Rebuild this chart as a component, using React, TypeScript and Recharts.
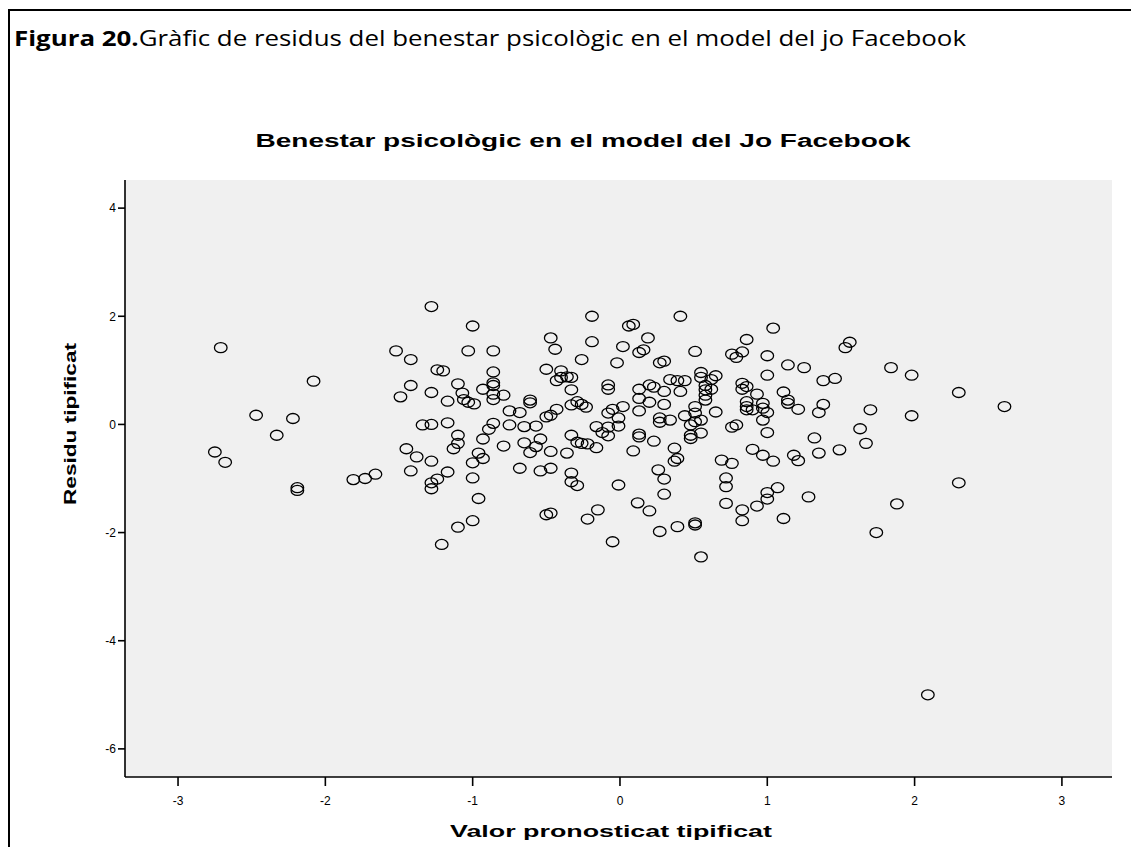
import React from "react";
import { ScatterChart, Scatter, XAxis, YAxis, CartesianGrid } from "recharts";

// Standardized predicted value (x) and standardized residual (y)
const predicted = [
  -2.71, -2.08, -2.47, -2.22, -2.33, -2.75, -2.68, -2.19, -2.19, -1.81, -1.73, -1.66,
  -1.28, -1.0, -1.52, -1.42, -1.03, -0.86, -1.24, -1.2, -0.86, -1.42, -1.49, -1.28,
  -1.1, -1.07, -1.17, -1.06, -1.03, -0.99, -0.93, -0.86, -0.86, -0.86, -0.86, -0.79,
  -0.75, -0.68, -0.61, -0.61, -1.34, -1.28, -1.17, -0.86, -0.75, -0.65, -0.89, -1.1,
  -1.1, -1.13, -0.93, -1.45, -1.38, -1.28, -1.42, -1.17, -1.24, -1.28, -1.28, -0.96,
  -1.0, -0.93, -1.0, -0.96, -1.0, -1.1, -1.21, -0.79, -0.65, -0.61, -0.68,
  -0.19, 0.41, 0.06, 0.09, -0.47, -0.44, -0.19, 0.19, 0.02, 0.13, 0.16, -0.26,
  -0.02, 0.27, 0.3, -0.5, -0.4, -0.43, -0.4, -0.36, -0.33, -0.33, -0.08, -0.08,
  0.34, 0.39, 0.13, 0.2, 0.23, 0.3, 0.13, 0.2, 0.3, -0.33, -0.29, -0.26, -0.23,
  -0.43, -0.47, -0.5, -0.05, -0.08, 0.02, -0.01, 0.13, 0.27, 0.34, 0.27, -0.57,
  -0.16, -0.08, -0.01, -0.12, -0.08, 0.13, 0.13, 0.23, 0.09, 0.37, 0.37, 0.39,
  0.26, 0.3, 0.3, -0.54, -0.57, -0.47, -0.33, -0.29, -0.26, -0.22, -0.16, -0.36,
  -0.54, -0.47, -0.33, -0.33, -0.29, -0.01, -0.5, -0.47, -0.15, -0.22, 0.12, 0.2,
  -0.05, 0.27, 0.39,
  1.04, 0.86, 0.51, 0.76, 0.83, 0.79, 1.0, 1.14, 1.25, 1.0, 0.55, 0.55, 0.65, 0.62,
  0.44, 0.41, 0.58, 0.58, 0.62, 0.58, 0.58, 0.83, 0.83, 0.86, 0.93, 0.86, 0.86,
  0.86, 0.9, 0.97, 0.97, 1.0, 0.97, 1.11, 1.14, 1.14, 1.21, 1.38, 1.38, 1.35, 0.65,
  0.51, 0.51, 0.44, 0.55, 0.51, 0.48, 0.76, 0.79, 0.48, 0.48, 0.55, 1.0, 0.69,
  0.76, 0.9, 0.97, 1.04, 1.18, 1.21, 1.32, 1.35, 0.72, 0.72, 0.72, 0.83, 0.83,
  0.93, 1.0, 1.0, 1.07, 1.28, 1.11, 0.51, 0.51, 0.55,
  1.56, 1.53, 1.84, 1.98, 2.3, 2.61, 1.46, 1.7, 1.98, 1.63, 1.67, 1.49, 2.3, 1.88,
  1.74, 2.09,
];

const residual = [
  1.42, 0.8, 0.17, 0.11, -0.2, -0.51, -0.7, -1.17, -1.22, -1.02, -1.0, -0.92,
  2.18, 1.82, 1.36, 1.2, 1.36, 1.36, 1.01, 0.99, 0.97, 0.72, 0.51, 0.59,
  0.75, 0.58, 0.43, 0.46, 0.41, 0.38, 0.65, 0.77, 0.72, 0.56, 0.46, 0.54,
  0.25, 0.22, 0.45, 0.4, -0.01, 0.0, 0.03, 0.02, -0.01, -0.04, -0.09, -0.2,
  -0.35, -0.45, -0.27, -0.45, -0.6, -0.68, -0.86, -0.88, -1.01, -1.08, -1.19, -0.53,
  -0.71, -0.63, -0.99, -1.37, -1.78, -1.9, -2.22, -0.4, -0.34, -0.52, -0.81,
  2.0, 2.0, 1.82, 1.85, 1.6, 1.39, 1.53, 1.6, 1.44, 1.33, 1.38, 1.2,
  1.14, 1.14, 1.17, 1.02, 0.99, 0.81, 0.87, 0.88, 0.87, 0.64, 0.73, 0.65,
  0.83, 0.81, 0.65, 0.73, 0.69, 0.61, 0.48, 0.41, 0.37, 0.36, 0.42, 0.37, 0.32,
  0.28, 0.17, 0.14, 0.28, 0.21, 0.33, 0.12, 0.25, 0.12, 0.08, 0.04, -0.03,
  -0.04, -0.05, -0.03, -0.15, -0.21, -0.18, -0.23, -0.31, -0.49, -0.44, -0.68, -0.63,
  -0.84, -1.01, -1.29, -0.27, -0.41, -0.5, -0.2, -0.33, -0.35, -0.36, -0.43, -0.53,
  -0.86, -0.81, -0.9, -1.06, -1.13, -1.12, -1.67, -1.64, -1.58, -1.75, -1.45, -1.6,
  -2.17, -1.98, -1.89,
  1.78, 1.57, 1.35, 1.3, 1.34, 1.24, 1.27, 1.1, 1.05, 0.91, 0.96, 0.87, 0.9, 0.83,
  0.81, 0.61, 0.72, 0.64, 0.65, 0.54, 0.45, 0.76, 0.65, 0.7, 0.56, 0.42, 0.33,
  0.27, 0.27, 0.39, 0.3, 0.22, 0.08, 0.6, 0.45, 0.39, 0.28, 0.81, 0.37, 0.22, 0.23,
  0.33, 0.21, 0.16, 0.08, 0.05, -0.01, -0.05, -0.01, -0.2, -0.26, -0.16, -0.15, -0.66,
  -0.72, -0.46, -0.57, -0.68, -0.57, -0.67, -0.25, -0.53, -0.99, -1.15, -1.46, -1.58, -1.78,
  -1.51, -1.26, -1.38, -1.17, -1.34, -1.74, -1.82, -1.86, -2.45,
  1.52, 1.42, 1.05, 0.91, 0.59, 0.33, 0.85, 0.27, 0.16, -0.08, -0.35, -0.47, -1.08, -1.47,
  -2.0, -5.0,
];

const xTicks = [-3, -2, -1, 0, 1, 2, 3];
const yTicks = [-6, -4, -2, 0, 2, 4];
const xDomain = [-3.36, 3.34];
const yDomain = [-6.52, 4.52];

const data = predicted.map((x, i) => ({ x, y: residual[i] }));

const W = 1131;
const H = 847;

const tickStyle = { fontSize: 12, fill: "#000", fontFamily: "'Liberation Sans', Arial, sans-serif" };

// open circle, slightly wider than tall like the SPSS export
const Ring = (props: any) => {
  const { cx, cy } = props;
  if (cx == null || cy == null) return null;
  return <ellipse cx={cx} cy={cy} rx={6.3} ry={5} fill="none" stroke="#000" strokeWidth={1.3} />;
};

export default function App() {
  return (
    <div style={{ position: "absolute", left: 0, top: 0, width: W, height: H, background: "#fff" }}>
      <ScatterChart width={W} height={H} margin={{ top: 180, right: 19, bottom: 40, left: 85 }}>
        <CartesianGrid fill="#f0f0f0" fillOpacity={1} horizontal={false} vertical={false} />
        <XAxis
          type="number"
          dataKey="x"
          domain={xDomain}
          allowDataOverflow
          ticks={xTicks}
          height={30}
          tickSize={9}
          tickMargin={10}
          tick={tickStyle}
          axisLine={{ stroke: "#000", strokeWidth: 1.6 }}
          tickLine={{ stroke: "#000", strokeWidth: 1.6 }}
        />
        <YAxis
          type="number"
          dataKey="y"
          domain={yDomain}
          allowDataOverflow
          ticks={yTicks}
          width={40}
          tickSize={7}
          tickMargin={2}
          tick={tickStyle}
          axisLine={{ stroke: "#000", strokeWidth: 1.6 }}
          tickLine={{ stroke: "#000", strokeWidth: 1.6 }}
        />
        <XAxis
          xAxisId="top"
          orientation="top"
          type="number"
          domain={xDomain}
          allowDataOverflow
          height={0}
          tick={false}
          tickLine={false}
          axisLine={{ stroke: "#777", strokeWidth: 1 }}
        />
        <YAxis
          yAxisId="right"
          orientation="right"
          type="number"
          domain={yDomain}
          allowDataOverflow
          width={0}
          tick={false}
          tickLine={false}
          axisLine={{ stroke: "#777", strokeWidth: 1 }}
        />
        <Scatter data={data} shape={Ring} isAnimationActive={false} />
      </ScatterChart>

      <svg
        width={W}
        height={H}
        style={{ position: "absolute", left: 0, top: 0, pointerEvents: "none" }}
      >
        <path d={`M 9 ${H} V 10 H ${W}`} fill="none" stroke="#000" strokeWidth={2} />
        <text
          x={14}
          y={46}
          fontSize={22}
          fontFamily="'Liberation Sans Narrow', 'Open Sans', sans-serif"
          textLength={952}
          lengthAdjust="spacingAndGlyphs"
        >
          <tspan fontWeight="bold">Figura 20.</tspan>
          <tspan>Gràfic de residus del benestar psicològic en el model del jo Facebook</tspan>
        </text>
        <text
          x={583}
          y={147}
          textAnchor="middle"
          fontSize={18}
          fontWeight="bold"
          fontFamily="'Liberation Sans', Arial, sans-serif"
          textLength={655}
          lengthAdjust="spacingAndGlyphs"
        >
          Benestar psicològic en el model del Jo Facebook
        </text>
        <text
          x={611}
          y={837}
          textAnchor="middle"
          fontSize={17}
          fontWeight="bold"
          fontFamily="'Liberation Sans', Arial, sans-serif"
          textLength={322}
          lengthAdjust="spacingAndGlyphs"
        >
          Valor pronosticat tipificat
        </text>
        <text
          transform="translate(76,424) rotate(-90)"
          textAnchor="middle"
          fontSize={16}
          fontWeight="bold"
          fontFamily="'Liberation Sans', Arial, sans-serif"
          textLength={162}
          lengthAdjust="spacingAndGlyphs"
        >
          Residu tipificat
        </text>
      </svg>
    </div>
  );
}
